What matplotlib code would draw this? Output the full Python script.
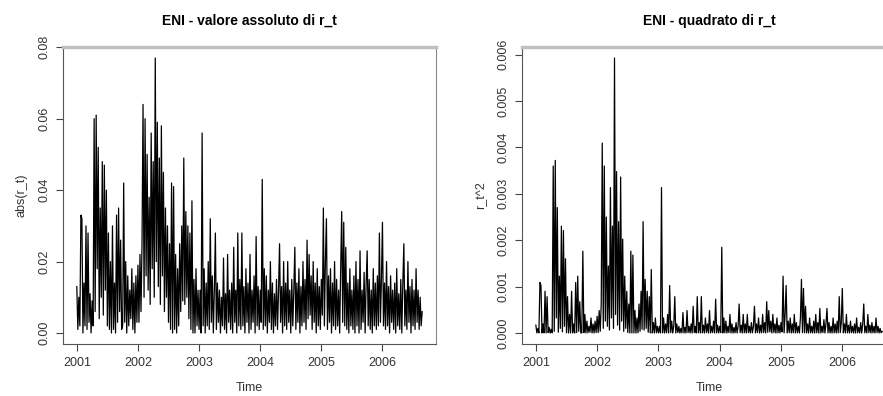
import numpy as np
import matplotlib
matplotlib.use("Agg")
import matplotlib.pyplot as plt

# ENI daily |r_t|, 60 points per year, in thousandths
abs_2001 = [13, 1, 10, 2, 33, 32, 0, 14, 2, 30,
            1, 28, 3, 11, 0, 9, 2, 60, 6, 61,
            18, 52, 4, 35, 10, 48, 5, 47, 12, 40,
            2, 28, 1, 20, 0, 30, 1, 14, 0, 33,
            3, 35, 6, 26, 1, 2, 42, 3, 20, 0,
            16, 2, 12, 4, 18, 1, 14, 0, 16, 3]
abs_2002 = [19, 3, 22, 6, 25, 64, 10, 60, 16, 50,
            12, 38, 8, 56, 18, 48, 10, 77, 20, 59,
            13, 49, 8, 58, 16, 45, 6, 35, 10, 30,
            3, 25, 1, 42, 0, 41, 1, 22, 0, 18,
            2, 25, 6, 30, 9, 49, 8, 34, 10, 30,
            4, 28, 1, 37, 0, 15, 0, 18, 2, 12]
abs_2003 = [1, 12, 0, 56, 2, 18, 0, 14, 2, 20,
            1, 32, 3, 16, 0, 12, 28, 1, 14, 3,
            12, 0, 10, 2, 21, 1, 11, 0, 22, 3,
            12, 1, 14, 0, 24, 3, 12, 0, 28, 2,
            15, 1, 28, 2, 13, 0, 18, 3, 14, 0,
            22, 1, 12, 3, 16, 0, 27, 2, 13, 1]
abs_2004 = [12, 3, 43, 1, 18, 2, 16, 0, 12, 3,
            20, 1, 14, 0, 11, 2, 15, 1, 12, 25,
            3, 13, 0, 20, 2, 14, 1, 20, 3, 12,
            0, 15, 2, 12, 24, 1, 14, 3, 18, 0,
            13, 2, 20, 3, 15, 1, 26, 4, 22, 5,
            16, 1, 20, 3, 14, 0, 18, 2, 13, 1]
abs_2005 = [15, 5, 35, 2, 20, 32, 1, 16, 3, 18,
            0, 14, 2, 20, 1, 15, 2, 12, 0, 18,
            34, 3, 31, 2, 24, 1, 14, 0, 18, 2,
            12, 1, 16, 0, 20, 2, 15, 0, 23, 1,
            12, 3, 17, 0, 14, 23, 2, 15, 1, 12,
            0, 18, 2, 14, 1, 16, 2, 28, 3, 15]
abs_2006 = [31, 2, 14, 1, 20, 2, 13, 0, 16, 3,
            12, 1, 14, 0, 18, 2, 11, 1, 15, 0,
            14, 25, 2, 12, 1, 20, 3, 13, 0, 15,
            2, 12, 1, 18, 3, 12, 1, 10, 2, 6]

start_year = 2001
per_year = 60
year_ticks = [2001, 2002, 2003, 2004, 2005, 2006]

abs_r = np.array(abs_2001 + abs_2002 + abs_2003 + abs_2004 + abs_2005 + abs_2006) / 1000.0
sq_r = abs_r ** 2
t = start_year + np.arange(len(abs_r)) / per_year

plt.rcParams['font.family'] = ['Liberation Sans', 'DejaVu Sans']

fig = plt.figure(figsize=(8.83, 3.96), dpi=100)
ax1 = fig.add_axes([63/883, 52/396, 373/883, 297/396])
ax2 = fig.add_axes([522/883, 52/396, 374/883, 297/396])

def style(ax, y, ylab, title, fmt):
    ax.plot(t, y, color='black', lw=0.9)
    ax.margins(x=0.04, y=0.04)
    ax.set_xticks(year_ticks)
    ax.set_title(title, fontsize=10, fontweight='bold', pad=16)
    ax.set_xlabel('Time', fontsize=9, color='#333333', labelpad=10)
    ax.set_ylabel(ylab, fontsize=9, color='#333333', labelpad=8)
    ax.yaxis.set_major_formatter(matplotlib.ticker.FormatStrFormatter(fmt))
    ax.tick_params(length=5, width=0.8, color='#444444', labelsize=9,
                   labelcolor='#333333', pad=4)
    ax.tick_params(axis='y', labelrotation=90)
    ax.spines['top'].set_color('#c0c0c0')
    ax.spines['top'].set_linewidth(2.5)
    ax.spines['right'].set_color('#888888')
    ax.spines['left'].set_color('#555555')
    ax.spines['bottom'].set_color('#555555')

style(ax1, abs_r, 'abs(r_t)', 'ENI - valore assoluto di r_t', '%.2f')
ax1.set_yticks([0.0, 0.02, 0.04, 0.06, 0.08])
style(ax2, sq_r, 'r_t^2', 'ENI - quadrato di r_t', '%.3f')
ax2.set_yticks([0.0, 0.001, 0.002, 0.003, 0.004, 0.005, 0.006])
for ax in (ax1, ax2):
    for lab in ax.get_yticklabels():
        lab.set_va('center')

fig.savefig('out.png', dpi=100)
